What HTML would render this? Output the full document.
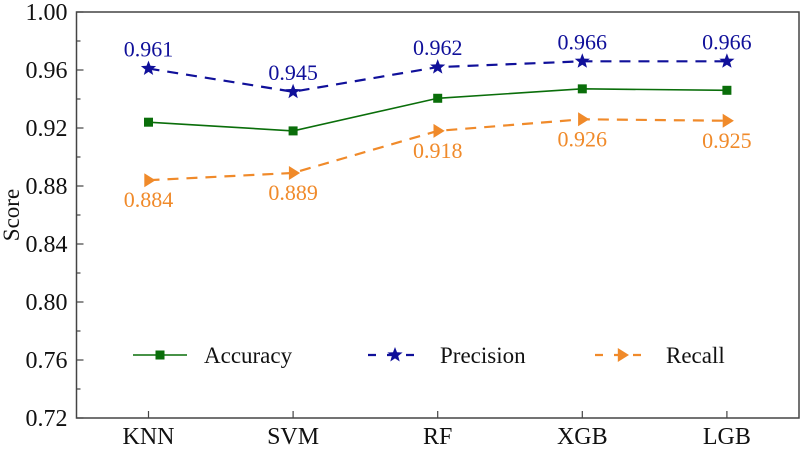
<!DOCTYPE html>
<html><head><meta charset="utf-8"><style>
body{margin:0;background:#fff}
text{font-family:"Liberation Serif","Times New Roman",serif}
</style></head><body>
<svg id="chart" width="802" height="448" xmlns="http://www.w3.org/2000/svg"></svg>
<script>
const categories=["KNN","SVM","RF","XGB","LGB"];
const accuracy=[0.924,0.918,0.9405,0.947,0.946];
const precision=[0.961,0.945,0.962,0.966,0.966];
const recall=[0.884,0.889,0.918,0.926,0.925];
const yTicks=[0.72,0.76,0.80,0.84,0.88,0.92,0.96,1.00];
const NS="http://www.w3.org/2000/svg";
const svg=document.getElementById('chart');
const L=76.5,R=799,T=12,B=418;
const x0=148.5,dx=144.6;
const xs=i=>x0+i*dx;
const ys=v=>B-(v-0.72)/0.28*(B-T);
function mk(tag,attrs,parent){const e=document.createElementNS(NS,tag);for(const k in attrs)e.setAttribute(k,attrs[k]);(parent||svg).appendChild(e);return e;}
const frame=mk('rect',{x:L,y:T,width:R-L,height:B-T,fill:'none',stroke:'#444','stroke-width':1.5});


yTicks.forEach((v,i)=>{
  const y=ys(v);
  const t=mk('line',{x1:L,x2:L+7,y1:y,y2:y,stroke:'#444','stroke-width':1.2});
  
  
  if(i<yTicks.length-1){const m=ys(v+0.02);const mt=mk('line',{x1:L,x2:L+4,y1:m,y2:m,stroke:'#444','stroke-width':1.2});
  
  }
  const lb=mk('text',{x:L-9,y:y+8,'text-anchor':'end','font-size':24,fill:'#111'});lb.textContent=v.toFixed(2);
  
  
});
categories.forEach((c,i)=>{
  const x=xs(i);
  const t=mk('line',{x1:x,x2:x,y1:B,y2:B-7,stroke:'#444','stroke-width':1.2});
  
  
  const lb=mk('text',{x:x,y:444,'text-anchor':'middle','font-size':24,fill:'#111'});lb.textContent=c;
  
  
});
const yt=mk('text',{x:0,y:0,transform:'translate(19,215) rotate(-90)','text-anchor':'middle','font-size':23,fill:'#111'});yt.textContent='Score';


function star(cx,cy,r,fill,p){let pts=[];for(let k=0;k<10;k++){const a=-Math.PI/2+k*Math.PI/5;const rr=k%2?r*0.42:r;pts.push((cx+rr*Math.cos(a)).toFixed(1)+','+(cy+rr*Math.sin(a)).toFixed(1));}return mk('polygon',{points:pts.join(' '),fill:fill},p);}
function tri(cx,cy,s,fill,p){return mk('polygon',{points:`${cx-s*0.6},${cy-s} ${cx+s},${cy} ${cx-s*0.6},${cy+s}`,fill:fill},p);}
function sq(cx,cy,s,fill,p){return mk('rect',{x:cx-s,y:cy-s,width:2*s,height:2*s,fill:fill},p);}
const series=[
 {name:'accuracy',vals:accuracy,color:'#0a6e0a',dash:'',marker:sq,ms:4.5,lab:null},
 {name:'precision',vals:precision,color:'#10109a',dash:'11 8',marker:star,ms:8,lab:-12},
 {name:'recall',vals:recall,color:'#f08a2a',dash:'11 8',marker:tri,ms:7,lab:27}
];
series.forEach(s=>{
  const g=mk('g',{});
  
  
  const line=mk('polyline',{points:s.vals.map((v,i)=>xs(i)+','+ys(v)).join(' '),fill:'none',stroke:s.color,'stroke-width':s.dash?2.2:1.6,'stroke-dasharray':s.dash},g);
  
  
  s.vals.forEach((v,i)=>{
    const m=s.marker(xs(i),ys(v),s.ms,s.color,g);
    
    
    if(s.lab!==null){const t=mk('text',{x:xs(i),y:ys(v)+s.lab,'text-anchor':'middle','font-size':22,fill:s.color},g);t.textContent=v.toFixed(3);
    
    }
  });
});
const legend=[{n:'Accuracy',x:133,tx:204},{n:'Precision',x:368,tx:440},{n:'Recall',x:595,tx:666}];
legend.forEach((l,i)=>{
  const s=series[i];const g=mk('g',{});
  
  
  mk('line',{x1:l.x,x2:l.x+54,y1:355,y2:355,stroke:s.color,'stroke-width':s.dash?2.2:1.6,'stroke-dasharray':s.dash?'8 11':''},g);
  s.marker(l.x+27,355,s.ms,s.color,g);
  const t=mk('text',{x:l.tx,y:363,'font-size':23,fill:'#111'},g);t.textContent=l.n;
});
</script>
</body></html>
